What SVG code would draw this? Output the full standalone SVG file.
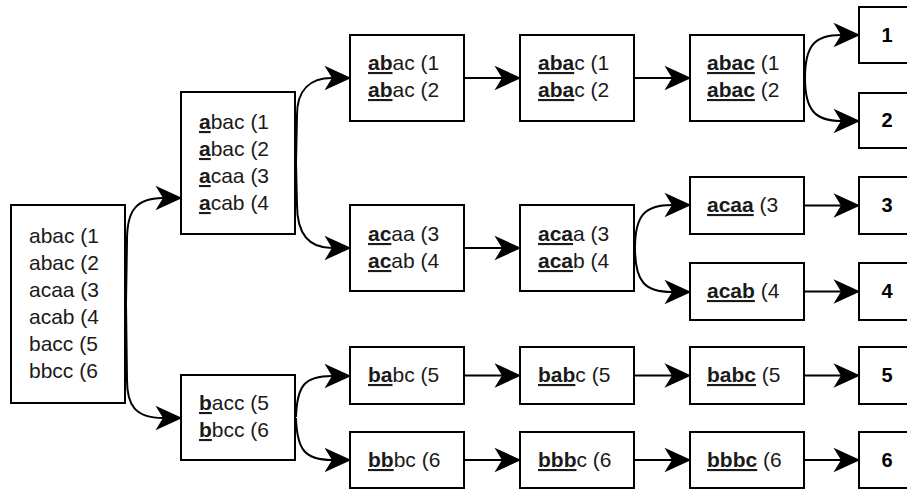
<svg xmlns="http://www.w3.org/2000/svg" width="907" height="489" viewBox="0 0 907 489">
<style>
rect.n{fill:#fff;stroke:#000;stroke-width:2}
text{font-family:"Liberation Sans",Arial,Helvetica,sans-serif;font-size:21px;fill:#1a1a1a}
text.num{font-weight:bold;text-anchor:middle;fill:#000;font-size:20px}
.u{font-weight:bold;text-decoration:underline}
.c path{fill:none;stroke:#000;stroke-width:2;marker-end:url(#ah)}
</style>
<defs>
<marker id="ah" markerUnits="userSpaceOnUse" markerWidth="30" markerHeight="30" viewBox="-1 -13 28 26" refX="7" refY="0" orient="auto">
<path d="M0,-11.5 L25,0 L0,11.5 L7,0 Z" fill="#000"/>
</marker>
</defs>
<g id="connectors" class="c">
<path d="M126,304 L127,240 C127,212 135,198 163,198"/>
<path d="M126,304 L127,380 C127,405 135,418 163,418"/>
<path d="M296,163 L297,115 C297,90 310,78 332,78"/>
<path d="M296,163 L297,205 C297,235 310,248 332,248"/>
<path d="M296,417 C297,385 305,376 332,376"/>
<path d="M296,418 C297,450 305,460 332,460"/>
<path d="M464,78 L502,78"/>
<path d="M634,78 L672,78"/>
<path d="M805,78 C805,45 815,35 841,35"/>
<path d="M805,78 C805,110 815,121 841,121"/>
<path d="M464,248 L502,248"/>
<path d="M635,248 C635,215 645,205 672,205"/>
<path d="M635,248 C635,282 645,292 672,292"/>
<path d="M804,205.5 L841,205.5"/>
<path d="M804,291.5 L841,291.5"/>
<path d="M464,375.5 L502,375.5"/>
<path d="M634,375.5 L672,375.5"/>
<path d="M804,375.5 L841,375.5"/>
<path d="M464,460 L502,460"/>
<path d="M634,460 L672,460"/>
<path d="M804,460 L841,460"/>
</g>
<g id="root">
<rect class="n" x="11" y="205" width="114" height="198"/>
<text x="29" y="243">abac (1</text>
<text x="29" y="270">abac (2</text>
<text x="29" y="297">acaa (3</text>
<text x="29" y="324">acab (4</text>
<text x="29" y="351">bacc (5</text>
<text x="29" y="378">bbcc (6</text>
</g>
<g id="n-a">
<rect class="n" x="181" y="92" width="114" height="142"/>
<text x="199" y="129"><tspan class="u">a</tspan>bac (1</text>
<text x="199" y="156"><tspan class="u">a</tspan>bac (2</text>
<text x="199" y="183"><tspan class="u">a</tspan>caa (3</text>
<text x="199" y="210"><tspan class="u">a</tspan>cab (4</text>
</g>
<g id="n-b">
<rect class="n" x="181" y="375" width="114" height="85"/>
<text x="199" y="410"><tspan class="u">b</tspan>acc (5</text>
<text x="199" y="437"><tspan class="u">b</tspan>bcc (6</text>
</g>
<g id="n-ab">
<rect class="n" x="350" y="35" width="114" height="86"/>
<text x="368" y="70"><tspan class="u">ab</tspan>ac (1</text>
<text x="368" y="97"><tspan class="u">ab</tspan>ac (2</text>
</g>
<g id="n-aba">
<rect class="n" x="520" y="35" width="114" height="86"/>
<text x="538" y="70"><tspan class="u">aba</tspan>c (1</text>
<text x="538" y="97"><tspan class="u">aba</tspan>c (2</text>
</g>
<g id="n-abac">
<rect class="n" x="690" y="35" width="114" height="86"/>
<text x="707" y="70"><tspan class="u">abac</tspan> (1</text>
<text x="707" y="97"><tspan class="u">abac</tspan> (2</text>
</g>
<g id="n-ac">
<rect class="n" x="350" y="205" width="114" height="86"/>
<text x="368" y="241"><tspan class="u">ac</tspan>aa (3</text>
<text x="368" y="268"><tspan class="u">ac</tspan>ab (4</text>
</g>
<g id="n-aca">
<rect class="n" x="520" y="205" width="114" height="86"/>
<text x="538" y="241"><tspan class="u">aca</tspan>a (3</text>
<text x="538" y="268"><tspan class="u">aca</tspan>b (4</text>
</g>
<g id="n-acaa">
<rect class="n" x="690" y="177" width="114" height="57"/>
<text x="707" y="212"><tspan class="u">acaa</tspan> (3</text>
</g>
<g id="n-acab">
<rect class="n" x="690" y="263" width="114" height="57"/>
<text x="707" y="298"><tspan class="u">acab</tspan> (4</text>
</g>
<g id="n-ba">
<rect class="n" x="350" y="347" width="114" height="57"/>
<text x="368" y="382"><tspan class="u">ba</tspan>bc (5</text>
</g>
<g id="n-bab">
<rect class="n" x="520" y="347" width="114" height="57"/>
<text x="538" y="382"><tspan class="u">bab</tspan>c (5</text>
</g>
<g id="n-babc">
<rect class="n" x="690" y="347" width="114" height="57"/>
<text x="707" y="382"><tspan class="u">babc</tspan> (5</text>
</g>
<g id="n-bb">
<rect class="n" x="350" y="432" width="114" height="56"/>
<text x="368" y="467"><tspan class="u">bb</tspan>bc (6</text>
</g>
<g id="n-bbb">
<rect class="n" x="520" y="432" width="114" height="56"/>
<text x="538" y="467"><tspan class="u">bbb</tspan>c (6</text>
</g>
<g id="n-bbbc">
<rect class="n" x="690" y="432" width="114" height="56"/>
<text x="707" y="467"><tspan class="u">bbbc</tspan> (6</text>
</g>
<g id="r1"><rect class="n" x="859" y="7" width="56" height="56"/><text class="num" x="887" y="42">1</text></g>
<g id="r2"><rect class="n" x="859" y="93" width="56" height="55"/><text class="num" x="887" y="127">2</text></g>
<g id="r3"><rect class="n" x="859" y="177" width="56" height="57"/><text class="num" x="887" y="212">3</text></g>
<g id="r4"><rect class="n" x="859" y="263" width="56" height="57"/><text class="num" x="887" y="298">4</text></g>
<g id="r5"><rect class="n" x="859" y="347" width="56" height="57"/><text class="num" x="887" y="382">5</text></g>
<g id="r6"><rect class="n" x="859" y="432" width="56" height="56"/><text class="num" x="887" y="467">6</text></g>
</svg>
